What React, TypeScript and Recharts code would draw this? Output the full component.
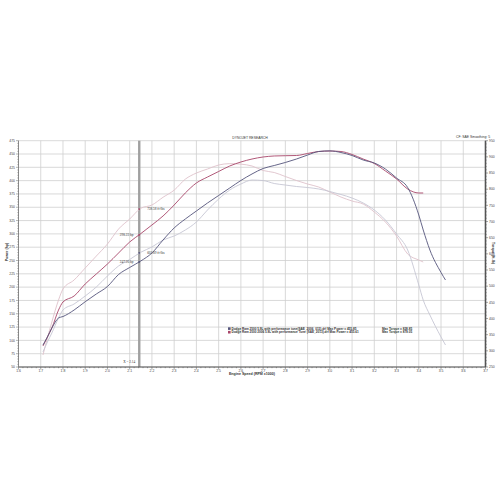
import {
  LineChart,
  Line,
  XAxis,
  YAxis,
  CartesianGrid,
  ReferenceLine,
  ReferenceDot,
} from 'recharts'

// engine speed, RPM x1000
const rpm = [
  1.71, 1.73, 1.75, 1.78, 1.8, 1.85, 1.9, 1.95, 2.0, 2.05, 2.1, 2.15, 2.2, 2.25,
  2.3, 2.35, 2.4, 2.45, 2.5, 2.55, 2.6, 2.65, 2.7, 2.75, 2.8, 2.85, 2.9, 2.95,
  3.0, 3.05, 3.1, 3.15, 3.2, 3.25, 3.3, 3.35, 3.4, 3.42, 3.45, 3.5, 3.52,
]

// run 1 (blue square in legend)
const powerRun1 = [
  91.3, 106.3, 123.2, 142.0, 144.8, 157.0, 172.6, 187.1, 201.2, 223.7, 236.9,
  249.1, 264.1, 288.5, 311.1, 327.9, 343.0, 358.0, 372.1, 386.2, 400.3, 412.5,
  422.8, 428.4, 434.1, 440.6, 448.1, 454.7, 455.9, 452.8, 447.2, 438.7, 433.1,
  421.8, 404.9, 387.1, 335.5, 307.3, 269.7, 227.5, 213.4,
]
const torqueRun1 = [
  296.4, 327.3, 355.2, 401.6, 426.3, 444.9, 469.6, 497.4, 531.5, 562.4, 582.5,
  605.0, 621.2, 642.8, 655.2, 673.7, 698.5, 735.6, 769.6, 797.5, 816.0, 828.4,
  826.8, 817.6, 812.9, 808.3, 805.2, 800.6, 792.8, 783.6, 772.7, 757.3, 735.6,
  704.6, 661.4, 611.9, 503.6, 457.0, 410.8, 342.8, 318.1,
]

// run 2 (red square in legend), ends at 3.42
const powerRun2 = [
  89.4, 106.3, 123.2, 157.0, 172.1, 183.3, 205.9, 224.7, 243.4, 264.1, 284.8,
  300.5, 316.7, 333.6, 354.2, 376.8, 395.6, 406.8, 417.2, 427.5, 435.0, 440.6,
  444.4, 446.3, 446.8, 447.2, 451.0, 454.7, 455.6, 454.7, 449.1, 440.6, 432.2,
  418.1, 403.1, 384.3, 376.8, 376.8, null, null, null,
]
const torqueRun2 = [
  287.1, 339.7, 389.2, 457.2, 491.3, 519.1, 556.2, 593.3, 630.4, 676.8, 707.8,
  741.0, 751.1, 775.0, 797.0, 831.0, 850.0, 862.4, 874.8, 879.0, 877.5, 871.7,
  857.8, 851.6, 839.2, 826.8, 816.0, 806.7, 791.3, 775.8, 763.4, 754.1, 729.4,
  698.4, 655.1, 599.5, 580.9, 574.7, null, null, null,
]

const rpmTicks = [
  1.6, 1.7, 1.8, 1.9, 2.0, 2.1, 2.2, 2.3, 2.4, 2.5, 2.6, 2.7, 2.8, 2.9, 3.0,
  3.1, 3.2, 3.3, 3.4, 3.5, 3.6, 3.7,
]
const powerTicks = [
  50, 75, 100, 125, 150, 175, 200, 225, 250, 275, 300, 325, 350, 375, 400, 425,
  450, 475,
]
const torqueTicks = [
  250, 300, 350, 400, 450, 500, 550, 600, 650, 700, 750, 800, 850, 900, 950,
]

const cursorRpm = 2.143
const cursorPower = [298.22, 247.26] // run 2, run 1
const cursorTorque = [738.58, 602.89] // run 2, run 1

const runNames = [
  'Dodge Ram 2500 5.9L with performance tune(SAE_2006_013).drf Max Power = 455.85',
  'Dodge Ram 2500 2006 5.9L with performance Tune (SAE_2013).drf Max Power = 455.61',
]
const runTorque = ['Max Torque = 828.85', 'Max Torque = 879.05']

const C_P1 = '#55557c'
const C_P2 = '#a8466a'
const C_T1 = '#c6c6d4'
const C_T2 = '#dfc2cb'
const FONT = '"Liberation Sans", Arial, sans-serif'

const data = rpm.map((r, i) => ({
  rpm: r,
  p1: powerRun1[i],
  t1: torqueRun1[i],
  p2: powerRun2[i],
  t2: torqueRun2[i],
}))

// major ticks plus evenly split minor ticks
function withMinor(major: number[], parts: number) {
  const out: number[] = []
  for (let i = 0; i < major.length - 1; i++) {
    for (let k = 0; k < parts; k++) {
      out.push(+(major[i] + ((major[i + 1] - major[i]) * k) / parts).toFixed(4))
    }
  }
  out.push(major[major.length - 1])
  return out
}

function AxisTick(props: any) {
  const { x, y, payload, side, step, digits } = props
  const v = payload.value
  const major = Math.abs(v / step - Math.round(v / step)) < 1e-6
  const len = major ? 2.5 : 1.2
  const label = digits ? Number(v).toFixed(digits) : String(v)
  const txt = { fontSize: 3.4, fill: '#444', fontFamily: FONT }
  if (side === 'left') {
    return (
      <g>
        <line x1={x} x2={x - len} y1={y} y2={y} stroke="#666" strokeWidth={0.5} />
        {major && (
          <text x={x - 3.5} y={y + 1.2} textAnchor="end" {...txt}>
            {label}
          </text>
        )}
      </g>
    )
  }
  if (side === 'right') {
    return (
      <g>
        <line x1={x} x2={x + len} y1={y} y2={y} stroke="#555" strokeWidth={0.5} />
        {major && (
          <text x={x + 3.5} y={y + 1.2} textAnchor="start" {...txt}>
            {label}
          </text>
        )}
      </g>
    )
  }
  return (
    <g>
      <line x1={x} x2={x} y1={y} y2={y + len} stroke="#555" strokeWidth={0.5} />
      {major && (
        <text x={x} y={y + 5.2} textAnchor="middle" {...txt}>
          {label}
        </text>
      )}
    </g>
  )
}

export default function App() {
  const txt = { fontFamily: FONT, fill: '#333' }
  return (
    <div style={{ position: 'absolute', left: 0, top: 0, width: 500, height: 500, background: '#fff' }}>
      <LineChart
        width={500}
        height={500}
        data={data}
        margin={{ top: 140.7, right: 0, bottom: 123, left: 0 }}
      >
        <CartesianGrid
          yAxisId="left"
          stroke="#cfcfcf"
          strokeWidth={0.8}
          verticalValues={rpmTicks}
          horizontalValues={powerTicks}
        />
        <XAxis
          dataKey="rpm"
          type="number"
          domain={[1.6, 3.7]}
          ticks={withMinor(rpmTicks, 5)}
          interval={0}
          height={10}
          tickSize={0}
          tickMargin={0}
          tickLine={false}
          stroke="#555"
          strokeWidth={1.2}
          tick={<AxisTick side="bottom" step={0.1} digits={1} />}
        />
        <YAxis
          yAxisId="left"
          domain={[50, 475]}
          ticks={withMinor(powerTicks, 5)}
          interval={0}
          width={18.5}
          tickSize={0}
          tickMargin={0}
          tickLine={false}
          stroke="#777"
          strokeWidth={0.8}
          tick={<AxisTick side="left" step={25} />}
        />
        <YAxis
          yAxisId="right"
          orientation="right"
          domain={[250, 950]}
          ticks={withMinor(torqueTicks, 5)}
          interval={0}
          width={14.5}
          tickSize={0}
          tickMargin={0}
          tickLine={false}
          stroke="#555"
          strokeWidth={1.6}
          tick={<AxisTick side="right" step={50} />}
        />
        <ReferenceLine
          yAxisId="left"
          x={cursorRpm}
          stroke="#a0a0a0"
          strokeWidth={2.4}
          label={{ value: `X = ${cursorRpm.toFixed(2)}`, position: 'insideBottomRight', offset: 4, fontSize: 3.4, fill: '#333' }}
        />
        <Line yAxisId="right" dataKey="t2" type="monotone" stroke={C_T2} strokeWidth={0.9} dot={false} isAnimationActive={false} />
        <Line yAxisId="right" dataKey="t1" type="monotone" stroke={C_T1} strokeWidth={0.9} dot={false} isAnimationActive={false} />
        <Line yAxisId="left" dataKey="p2" type="monotone" stroke={C_P2} strokeWidth={0.9} dot={false} isAnimationActive={false} />
        <Line yAxisId="left" dataKey="p1" type="monotone" stroke={C_P1} strokeWidth={0.9} dot={false} isAnimationActive={false} />
        <ReferenceDot
          yAxisId="right"
          x={cursorRpm}
          y={cursorTorque[0]}
          r={0.9}
          fill={C_P2}
          stroke="none"
          label={{ value: `${cursorTorque[0]} ft-lbs`, position: 'right', offset: 7, fontSize: 3.4, fill: '#333' }}
        />
        <ReferenceDot
          yAxisId="right"
          x={cursorRpm}
          y={cursorTorque[1]}
          r={0.9}
          fill={C_P1}
          stroke="none"
          label={{ value: `${cursorTorque[1]} ft-lbs`, position: 'right', offset: 7, fontSize: 3.4, fill: '#333' }}
        />
        <ReferenceDot
          yAxisId="left"
          x={cursorRpm}
          y={cursorPower[0]}
          r={0.9}
          fill={C_P2}
          stroke="none"
          label={{ value: `${cursorPower[0]} hp`, position: 'left', offset: 5, fontSize: 3.4, fill: '#333' }}
        />
        <ReferenceDot
          yAxisId="left"
          x={cursorRpm}
          y={cursorPower[1]}
          r={0.9}
          fill={C_P1}
          stroke="none"
          label={{ value: `${cursorPower[1]} hp`, position: 'left', offset: 5, fontSize: 3.4, fill: '#333' }}
        />
      </LineChart>
      <svg
        width={500}
        height={500}
        style={{ position: 'absolute', left: 0, top: 0, pointerEvents: 'none' }}
      >
        <text x={250} y={138.6} textAnchor="middle" fontSize={3.4} {...txt}>
          DYNOJET RESEARCH
        </text>
        <text x={473} y={137.8} textAnchor="middle" fontSize={3.4} {...txt}>
          CF: SAE  Smoothing: 5
        </text>
        <text
          x={8}
          y={252}
          textAnchor="middle"
          fontSize={3.6}
          fontWeight="bold"
          transform="rotate(-90 8 252)"
          {...txt}
        >
          Power (hp)
        </text>
        <text
          x={491.5}
          y={253}
          textAnchor="middle"
          fontSize={3.6}
          fontWeight="bold"
          transform="rotate(90 491.5 253)"
          {...txt}
        >
          Torque (ft-lb)
        </text>
        <text x={252} y={375} textAnchor="middle" fontSize={3.6} fontWeight="bold" {...txt}>
          Engine Speed (RPM x1000)
        </text>
        {runNames.map((name, i) => (
          <g key={name}>
            <rect x={228} y={327.3 + i * 3.6} width={2.6} height={2.6} fill={i === 0 ? C_P1 : C_P2} />
            <text x={231.5} y={329.8 + i * 3.6} fontSize={3.1} fontWeight="bold" {...txt}>
              {name}
            </text>
            <text x={382} y={329.8 + i * 3.6} fontSize={3.1} fontWeight="bold" {...txt}>
              {runTorque[i]}
            </text>
          </g>
        ))}
      </svg>
    </div>
  )
}
